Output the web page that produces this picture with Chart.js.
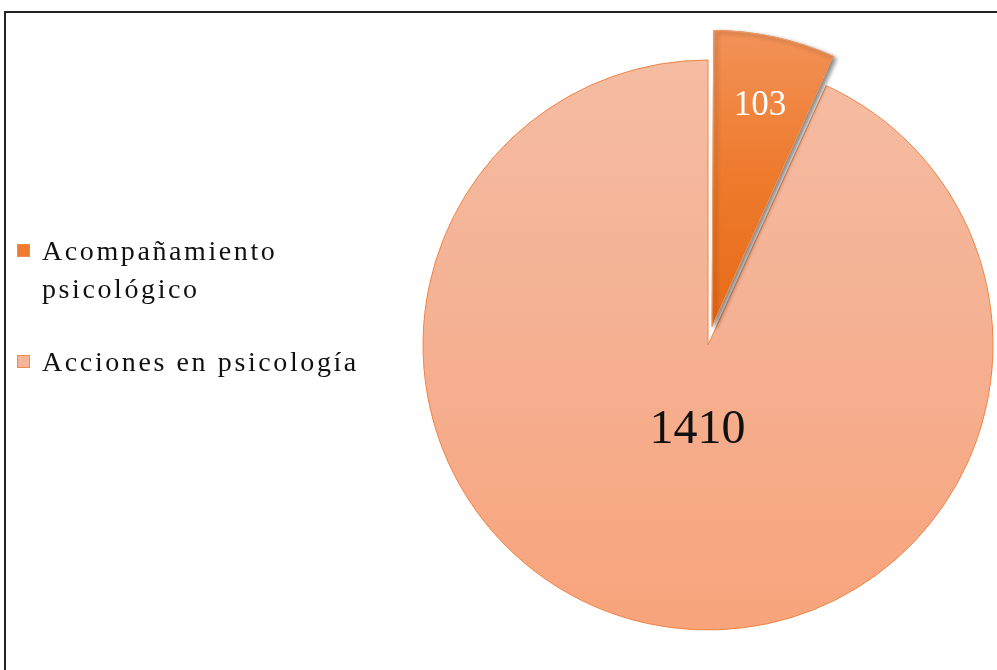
<!DOCTYPE html>
<html>
<head>
<meta charset="utf-8">
<script src="https://cdn.jsdelivr.net/npm/chart.js@4"></script>
<style>
  html, body { margin: 0; padding: 0; background: #fff; }
  #wrap { position: relative; width: 997px; height: 670px; overflow: hidden; }
  #frame { position: absolute; left: 4px; top: 11px; right: -4px; bottom: -4px;
           border-top: 2px solid #222; border-left: 2px solid #222; }
  #chart { position: absolute; left: 0; top: 0; }
  .legend { position: absolute; left: 17px; font-family: "Liberation Serif", "Times New Roman", serif;
            font-size: 28px; letter-spacing: 2.6px; color: #111; line-height: 38px; }
  .legend .box { position: absolute; left: 0; width: 13px; height: 13px; box-sizing: border-box; }
  .legend .txt { position: absolute; left: 25px; white-space: nowrap; }
</style>
</head>
<body>
<div id="wrap">
  <canvas id="chart" width="997" height="670"></canvas>
  <div id="frame"></div>
  <div id="legend"></div>
</div>
<script>
const labels = ['Acompañamiento psicológico', 'Acciones en psicología'];
const legendLines = [['Acompañamiento', 'psicológico'], ['Acciones en psicología']];
const values = [103, 1410];

const gradStops = [
    ['#F3955E', '#EE7B2E', '#E86B17'],
    ['#F5BCA2', '#F5B092', '#F8A47B']
];
const swatchColors = ['#EE7A2E', '#F5B598'];
const labelColors = ['#ffffff', '#111111'];
const labelSizes = [35, 48];
const labelDist = [0.755, 0.305];
const explode = [30, 0];   // visible shift in px
const R = 285;

document.addEventListener('DOMContentLoaded', () => {
    // legend (html, text wraps like the original)
    const leg = document.getElementById('legend');
    const tops = [232, 343];
    legendLines.forEach((lines, i) => {
        const item = document.createElement('div');
        item.className = 'legend';
        item.style.top = tops[i] + 'px';
        const box = document.createElement('div');
        box.className = 'box';
        box.style.top = '12px';
        box.style.background = swatchColors[i];
        box.style.border = '1px solid #EF8A4C';
        item.appendChild(box);
        const txt = document.createElement('div');
        txt.className = 'txt';
        txt.innerHTML = lines.join('<br>');
        item.appendChild(txt);
        leg.appendChild(item);
    });

    // chart.js moves an arc by offset/4 * (1 + fix), convert wanted px to option value
    const total = values.reduce((a, b) => a + b, 0);
    const offsets = values.map((v, i) => {
        const circ = v / total * Math.PI * 2;
        const fix = 1 - Math.sin(Math.min(Math.PI, circ));
        return explode[i] * 4 / (1 + fix);
    });

    function makeGradient(chart, i) {
        const area = chart.chartArea;
        if (!area) return gradStops[i][0];
        const cy = (area.top + area.bottom) / 2;
        const y0 = i === 0 ? cy - R - explode[0] : cy - R;
        const y1 = i === 0 ? cy : cy + R;
        const g = chart.ctx.createLinearGradient(0, y0, 0, y1);
        g.addColorStop(0, gradStops[i][0]);
        g.addColorStop(0.5, gradStops[i][1]);
        g.addColorStop(1, gradStops[i][2]);
        return g;
    }

    const sliceLabels = {
        id: 'sliceLabels',
        afterDatasetsDraw(chart) {
            const ctx = chart.ctx;
            const meta = chart.getDatasetMeta(0);
            // redraw the exploded slice with a soft shadow
            ctx.save();
            ctx.shadowColor = 'rgba(0,0,0,0.45)';
            ctx.shadowBlur = 4;
            ctx.shadowOffsetX = 3;
            ctx.shadowOffsetY = 2;
            meta.data[0].draw(ctx);
            ctx.restore();

            meta.data.forEach((arc, i) => {
                const p = arc.getProps(['x', 'y', 'startAngle', 'endAngle', 'outerRadius']);
                const a = (p.startAngle + p.endAngle) / 2;
                const d = explode[i] + labelDist[i] * p.outerRadius;
                const x = p.x + Math.cos(a) * d;
                const y = p.y + Math.sin(a) * d;
                ctx.save();
                ctx.font = labelSizes[i] + 'px "Liberation Serif", "Times New Roman", serif';
                ctx.fillStyle = labelColors[i];
                ctx.textAlign = 'center';
                ctx.textBaseline = 'middle';
                ctx.fillText(String(values[i]), x + (i === 1 ? 8 : 0), y);
                ctx.restore();
            });
        }
    };

    const ctx = document.getElementById('chart').getContext('2d');
    new Chart(ctx, {
        type: 'pie',
        data: {
            labels: labels,
            datasets: [{
                data: values,
                backgroundColor: (c) => makeGradient(c.chart, c.dataIndex),
                borderColor: ['#F19A62', '#EF8444'],
                borderWidth: 1,
                offset: offsets,
                radius: R
            }]
        },
        options: {
            responsive: false,
            animation: false,
            events: [],
            layout: {
                padding: { left: 419, right: 0, top: 20, bottom: 0 }
            },
            plugins: {
                legend: { display: false },
                tooltip: { enabled: false }
            }
        },
        plugins: [sliceLabels]
    });
});
</script>
</body>
</html>
